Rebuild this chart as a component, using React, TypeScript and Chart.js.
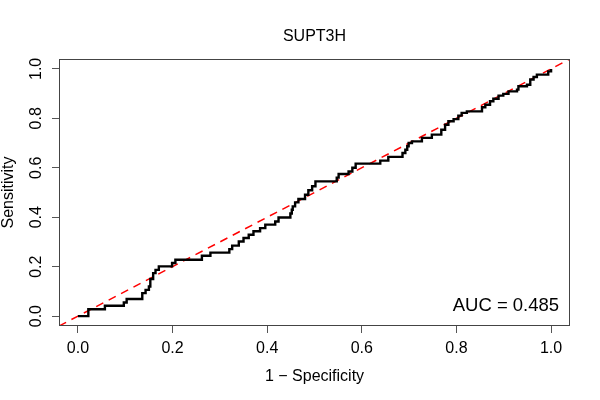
import { useEffect, useRef } from "react"
import { Chart, registerables } from "chart.js"
import type { Plugin } from "chart.js"

Chart.register(...registerables)

const TITLE = "SUPT3H"
const X_TITLE = "1 \u2212 Specificity"
const Y_TITLE = "Sensitivity"
const AUC = 0.485

// ROC curve (corner after each rise)
const fpr = [
  0, 0.022, 0.057, 0.097, 0.103, 0.136, 0.143, 0.15, 0.153, 0.159, 0.164, 0.171,
  0.199, 0.206, 0.262, 0.28, 0.32, 0.326, 0.34, 0.35, 0.361, 0.371, 0.385, 0.396,
  0.417, 0.424, 0.449, 0.452, 0.454, 0.459, 0.466, 0.48, 0.487, 0.495, 0.502,
  0.547, 0.551, 0.572, 0.58, 0.587, 0.639, 0.656, 0.686, 0.692, 0.696, 0.699,
  0.706, 0.727, 0.748, 0.768, 0.776, 0.783, 0.794, 0.804, 0.811, 0.822, 0.854,
  0.861, 0.871, 0.878, 0.889, 0.899, 0.91, 0.928, 0.931, 0.949, 0.956, 0.963,
  0.97, 0.994, 1,
]
const tpr = [
  0, 0.028, 0.042, 0.055, 0.069, 0.093, 0.106, 0.12, 0.15, 0.174, 0.187, 0.201,
  0.215, 0.228, 0.244, 0.257, 0.271, 0.285, 0.302, 0.316, 0.329, 0.343, 0.356, 0.37,
  0.383, 0.399, 0.415, 0.43, 0.444, 0.46, 0.474, 0.491, 0.509, 0.525, 0.545,
  0.56, 0.575, 0.585, 0.6, 0.617, 0.629, 0.644, 0.66, 0.673, 0.687, 0.7,
  0.707, 0.721, 0.734, 0.754, 0.774, 0.788, 0.797, 0.811, 0.822, 0.828, 0.845,
  0.855, 0.869, 0.879, 0.892, 0.899, 0.909, 0.916, 0.93, 0.936, 0.957, 0.967,
  0.977, 0.99, 1,
]

// reference diagonal, drawn across the whole plot region
const diagX = [-0.04, 1.04]
const diagY = [-0.04, 1.04]

const tickValues = [0, 0.2, 0.4, 0.6, 0.8, 1]
const tickLabels = ["0.0", "0.2", "0.4", "0.6", "0.8", "1.0"]

const FONT = '"Liberation Sans", Arial, Helvetica, sans-serif'

// R-style box around the plot region + AUC text
const boxPlugin: Plugin<"line"> = {
  id: "rBox",
  afterDraw(chart) {
    const { ctx, chartArea: a } = chart
    ctx.save()
    ctx.strokeStyle = "#444"
    ctx.lineWidth = 1
    ctx.strokeRect(a.left + 0.5, a.top + 0.5, a.right - a.left - 1, a.bottom - a.top - 1)
    ctx.restore()
  },
  afterDatasetsDraw(chart) {
    const { ctx, scales } = chart
    ctx.save()
    ctx.font = `18.5px ${FONT}`
    ctx.fillStyle = "#000"
    ctx.textAlign = "right"
    ctx.textBaseline = "alphabetic"
    ctx.fillText(`AUC = ${AUC.toFixed(3)}`, scales.x.getPixelForValue(1.017), scales.y.getPixelForValue(0.021))
    ctx.restore()
  },
}

export default function App() {
  const canvasRef = useRef<HTMLCanvasElement>(null)

  useEffect(() => {
    const canvas = canvasRef.current
    if (!canvas) return

    Chart.defaults.font.family = FONT
    Chart.defaults.color = "#000"

    const setTicks = (s: any) => {
      s.ticks = tickValues.map((v) => ({ value: v }))
    }
    const label = (v: any) => tickLabels[tickValues.indexOf(Number(v))] ?? ""

    const chart = new Chart(canvas, {
      type: "line",
      data: {
        datasets: [
          {
            label: "ROC",
            data: fpr.map((x, i) => ({ x, y: tpr[i] })),
            borderColor: "#000",
            borderWidth: 2.4,
            pointRadius: 0,
            stepped: "before",
            tension: 0,
          },
          {
            label: "identity",
            data: diagX.map((x, i) => ({ x, y: diagY[i] })),
            borderColor: "#ff0000",
            borderWidth: 1.5,
            borderDash: [8, 6],
            pointRadius: 0,
          },
        ],
      },
      options: {
        animation: false,
        responsive: true,
        maintainAspectRatio: false,
        layout: { padding: { left: 0, right: 30, top: 0, bottom: 0 } },
        plugins: {
          legend: { display: false },
          tooltip: { enabled: false },
          title: {
            display: true,
            fullSize: false,
            text: TITLE,
            color: "#000",
            font: { size: 16, weight: "normal", lineHeight: 1.2 },
            padding: { top: 27.2, bottom: 12.6 },
          },
        },
        scales: {
          x: {
            type: "linear",
            min: -0.04,
            max: 1.04,
            afterBuildTicks: setTicks,
            afterFit: (s: any) => {
              s.height = 74
            },
            border: { display: false },
            grid: { drawOnChartArea: false, drawTicks: true, tickLength: 7, color: "#555" },
            ticks: { callback: label, font: { size: 16 }, padding: 6.2, color: "#000", autoSkip: false },
            title: {
              display: true,
              text: X_TITLE,
              font: { size: 16, lineHeight: 1.2 },
              padding: { top: 0, bottom: 13.6 },
              color: "#000",
            },
          },
          y: {
            type: "linear",
            min: -0.04,
            max: 1.04,
            afterBuildTicks: setTicks,
            afterFit: (s: any) => {
              s.width = 59
            },
            border: { display: false },
            grid: { drawOnChartArea: false, drawTicks: true, tickLength: 7, color: "#555" },
            ticks: {
              callback: label,
              font: { size: 16 },
              padding: 4.6,
              color: "#000",
              minRotation: 90,
              maxRotation: 90,
              crossAlign: "center",
              autoSkip: false,
            },
            title: {
              display: true,
              text: Y_TITLE,
              font: { size: 16, lineHeight: 1 },
              padding: { top: 0.2, bottom: 0 },
              color: "#000",
            },
          },
        },
      },
      plugins: [boxPlugin],
    })

    return () => chart.destroy()
  }, [])

  return (
    <div style={{ position: "fixed", left: 0, top: 0, width: 600, height: 400, background: "#fff" }}>
      <canvas ref={canvasRef} />
    </div>
  )
}
